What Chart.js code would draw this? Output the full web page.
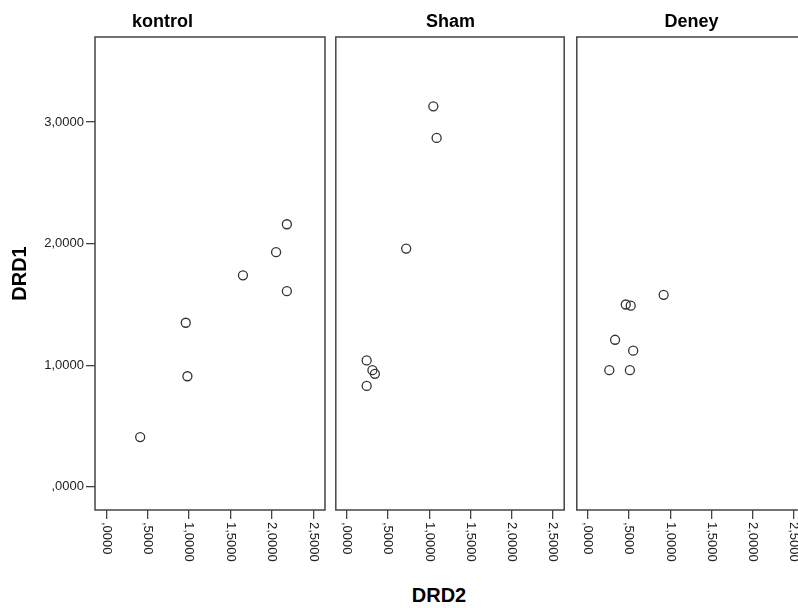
<!DOCTYPE html>
<html>
<head>
<meta charset="utf-8">
<script src="https://cdn.jsdelivr.net/npm/chart.js@4/dist/chart.umd.min.js"></script>
<style>
  body { margin: 0; background: #fff; }
  #wrap { position: relative; width: 798px; height: 608px; overflow: hidden; background: #fff; }
  #wrap canvas { position: absolute; top: 0; }
  #xTitle {
    position: absolute; left: 389px; top: 583px; width: 100px; text-align: center;
    font: bold 20px "Liberation Sans", Arial, sans-serif; line-height: 24px; color: #000;
  }
</style>
</head>
<body>
<div id="wrap">
  <canvas id="c1" width="335" height="570" style="left:0px"></canvas>
  <canvas id="c2" width="240" height="570" style="left:330px"></canvas>
  <canvas id="c3" width="240" height="570" style="left:571px"></canvas>
  <div id="xTitle">DRD2</div>
</div>
<script>
// panels
const groups = ['kontrol', 'Sham', 'Deney'];

// DRD2 (x) and DRD1 (y) per group
const kontrolX = [2.18, 2.05, 1.65, 2.18, 0.96, 0.98, 0.41];
const kontrolY = [2.16, 1.93, 1.74, 1.61, 1.35, 0.91, 0.41];
const shamX = [1.05, 1.09, 0.72, 0.24, 0.31, 0.34, 0.24];
const shamY = [3.13, 2.87, 1.96, 1.04, 0.96, 0.93, 0.83];
const deneyX = [0.92, 0.46, 0.52, 0.33, 0.55, 0.26, 0.51];
const deneyY = [1.58, 1.50, 1.49, 1.21, 1.12, 0.96, 0.96];

// axes
const xTicks = [0, 0.5, 1, 1.5, 2, 2.5];
const xTickLabels = [',0000', ',5000', '1,0000', '1,5000', '2,0000', '2,5000'];
const yTicks = [0, 1, 2, 3];
const yTickLabels = [',0000', '1,0000', '2,0000', '3,0000'];

const FONT = '"Liberation Sans", Arial, sans-serif';
const LINE = '#444';

const toPoints = (xs, ys) => xs.map((x, i) => ({ x: x, y: ys[i] }));

// frame round the plot area + x tick labels turned clockwise
const panelPlugin = {
  id: 'panel',
  afterDraw(chart) {
    const { ctx, chartArea } = chart;
    const xs = chart.scales.x;
    ctx.save();
    ctx.strokeStyle = LINE;
    ctx.lineWidth = 1.5;
    ctx.strokeRect(chartArea.left, chartArea.top, chartArea.right - chartArea.left, chartArea.bottom - chartArea.top);

    ctx.fillStyle = '#222';
    ctx.font = '13px ' + FONT;
    ctx.textAlign = 'left';
    ctx.textBaseline = 'middle';
    xTicks.forEach((v, i) => {
      const px = xs.getPixelForValue(v);
      ctx.save();
      ctx.translate(px, chartArea.bottom + 12);
      ctx.rotate(Math.PI / 2);
      ctx.fillText(xTickLabels[i], 0, 0);
      ctx.restore();
    });
    ctx.restore();
  },
};

function makePanel(id, title, xs, ys, withYAxis) {
  const ctx = document.getElementById(id).getContext('2d');
  return new Chart(ctx, {
    type: 'scatter',
    data: {
      datasets: [
        {
          label: title,
          data: toPoints(xs, ys),
          pointStyle: 'circle',
          pointRadius: 4.5,
          pointHoverRadius: 4.5,
          pointBorderWidth: 1.3,
          borderColor: '#333',
          backgroundColor: 'rgba(0,0,0,0)',
        },
      ],
    },
    options: {
      responsive: false,
      animation: false,
      events: [],
      layout: {
        padding: { left: withYAxis ? 0 : 5, right: withYAxis ? 10 : 4, top: 0, bottom: 0 },
      },
      plugins: {
        legend: { display: false },
        tooltip: { enabled: false },
        title: {
          display: true,
          text: title,
          color: '#000',
          font: { family: FONT, size: 18, weight: 'bold', lineHeight: 1.2 },
          padding: { top: 11, bottom: 4.4 },
        },
      },
      scales: {
        x: {
          type: 'linear',
          min: -0.135,
          max: 2.64,
          afterBuildTicks: (scale) => {
            scale.ticks = xTicks.map((v) => ({ value: v }));
          },
          afterFit: (scale) => {
            scale.height = 60;
          },
          grid: { drawOnChartArea: false, drawTicks: true, tickLength: 9, color: LINE, lineWidth: 1.3 },
          border: { display: false },
          ticks: { display: false },
        },
        y: {
          type: 'linear',
          display: withYAxis,
          min: -0.19,
          max: 3.7,
          afterBuildTicks: (scale) => {
            scale.ticks = yTicks.map((v) => ({ value: v }));
          },
          afterFit: (scale) => {
            scale.width = withYAxis ? 95 : 0;
          },
          grid: { drawOnChartArea: false, drawTicks: true, tickLength: 9, color: LINE, lineWidth: 1.3 },
          border: { display: false },
          ticks: {
            color: '#222',
            padding: 2,
            font: { family: FONT, size: 13 },
            callback: (value) => yTickLabels[yTicks.indexOf(value)],
          },
          title: {
            display: true,
            text: 'DRD1',
            color: '#000',
            font: { family: FONT, size: 20, weight: 'bold', lineHeight: 1.2 },
            padding: { top: 8, bottom: 0 },
          },
        },
      },
    },
    plugins: [panelPlugin],
  });
}

makePanel('c1', groups[0], kontrolX, kontrolY, true);
makePanel('c2', groups[1], shamX, shamY, false);
makePanel('c3', groups[2], deneyX, deneyY, false);
</script>
</body>
</html>
